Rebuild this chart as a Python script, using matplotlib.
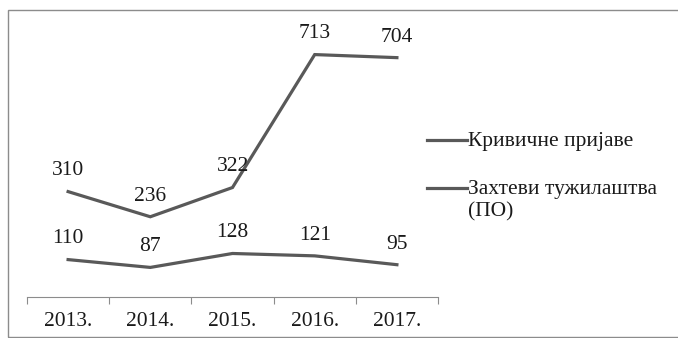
import matplotlib.pyplot as plt
from matplotlib.patches import Rectangle
from matplotlib.lines import Line2D

# Data
years = ["2013.", "2014.", "2015.", "2016.", "2017."]
prijave = [310, 236, 322, 713, 704]
zahtevi = [110, 87, 128, 121, 95]
series_names = ["Кривичне пријаве", "Захтеви тужилаштва\n(ПО)"]

plt.rcParams["font.family"] = ["Liberation Serif", "DejaVu Serif"]
line_color = "#595959"
text_color = "#1a1a1a"
fs = 15.5

fig = plt.figure(figsize=(6.78, 3.38), dpi=100)
W, H = 678, 338

# Outer chart frame (runs past the right edge)
fig.patches.append(Rectangle((8 / W, 0.004), 1.05, 1 - 10 / H - 0.004,
                             transform=fig.transFigure, fill=False,
                             edgecolor="#8c8c8c", linewidth=1.0, clip_on=False))

ax = fig.add_axes([27 / W, 1 - 297 / H, (438 - 27) / W, (297 - 25) / H])

x = list(range(len(years)))
for vals in (prijave, zahtevi):
    ax.plot(x, vals, color=line_color, linewidth=2.3, solid_joinstyle="miter")
    # Value labels above each point
    for xi, v in zip(x, vals):
        ax.annotate(str(v), (xi, v), xytext=(0, 8), textcoords="offset points",
                    ha="center", va="bottom", fontsize=fs, color=text_color)

ax.set_xlim(-0.5, len(years) - 0.5)
ax.set_ylim(0, 800)

# Category axis with tick marks between the years
ax.set_xticks([i - 0.5 for i in range(len(years) + 1)])
ax.set_xticklabels([])
ax.set_xticks(x, minor=True)
ax.set_xticklabels(years, minor=True, fontsize=fs, color=text_color)
ax.tick_params(axis="x", which="major", length=5, color="#8c8c8c", direction="out")
ax.tick_params(axis="x", which="minor", length=0, pad=11)
ax.set_yticks([])
for side in ["top", "right", "left"]:
    ax.spines[side].set_visible(False)
ax.spines["bottom"].set_color("#8c8c8c")
ax.patch.set_alpha(0)

# Legend: short line followed by the series name
for name, ly in zip(series_names, [140, 188]):
    yf = 1 - ly / H
    fig.add_artist(Line2D([427 / W, 467 / W], [yf, yf], color=line_color,
                          linewidth=2.3, transform=fig.transFigure))
    fig.text(468 / W, yf + 8 / H, name, ha="left", va="top", fontsize=fs,
             color=text_color, linespacing=1.25)

fig.savefig("out.png", dpi=100)
